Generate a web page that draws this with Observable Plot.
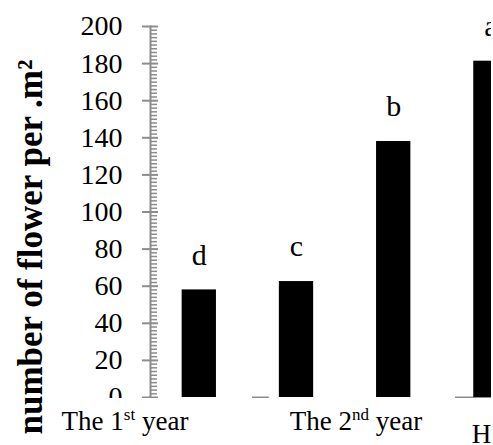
<!DOCTYPE html>
<html><head><meta charset="utf-8">
<script src="https://cdn.jsdelivr.net/npm/d3@7"></script>
<script src="https://cdn.jsdelivr.net/npm/@observablehq/plot@0.6"></script>
<style>
html,body{margin:0;padding:0;background:#fff;}
#wrap{position:relative;width:493px;height:445px;overflow:hidden;background:#fff;color:#000;}
#wrap svg{position:absolute;left:0;top:0;}
.glab{position:absolute;font-family:"Liberation Serif";font-size:27px;line-height:27px;white-space:nowrap;}
.glab sup{font-size:17px;line-height:0;vertical-align:10px;}
#ytitle{position:absolute;font-family:"Liberation Serif";font-size:35px;font-weight:bold;line-height:35px;white-space:nowrap;transform:translate(-50%,-50%) rotate(-90deg);}
</style></head><body><div id="wrap"></div>
<script>
// data
const barIndex = [0, 1, 2, 3];
const letters = ["d", "c", "b", "a"];
const flowers = [58, 62.5, 138, 181.3];
const yTicks = [0, 20, 40, 60, 80, 100, 120, 140, 160, 180, 200];
const yMinorTicks = d3.range(0, 201, 2).filter(v => v % 20 !== 0);
const yTitle = "number of flower per .m²";
const groupMain = ["The 1", "The 2", "H"];
const groupSup = ["st", "nd", ""];
const groupTail = [" year", " year", ""];
const groupAt = [-0.759, 1.617, 2.808];
const axisSegStart = [0.547, 2.636];
const axisSegEnd = [0.72, 3.01];

// style / layout
const groupAnchor = ["middle", "middle", "start"];
const groupTop = [408.4, 408.4, 421.4];
const halfBar = 0.1765;
const gray = "#8c8c8c";
const serif = "Liberation Serif";

const data = barIndex.map((i, k) => ({i, value: flowers[k], letter: letters[k]}));
const segs = axisSegStart.map((s, k) => ({x1: s, x2: axisSegEnd[k]}));

const plot = Plot.plot({
  width: 491,
  height: 398,
  marginLeft: 150,
  marginRight: 0,
  marginTop: 26,
  marginBottom: 1,
  x: {type: "linear", domain: [-0.502, 3.006], axis: null},
  y: {domain: [0, 200], axis: null},
  marks: [
    Plot.ruleY(segs, {x1: "x1", x2: "x2", y: 0, stroke: gray, strokeWidth: 2}),
    Plot.rectY(data, {x1: d => d.i - halfBar, x2: d => d.i + halfBar, y1: 0, y2: "value", fill: "black"}),
    Plot.text(data, {x: "i", y: "value", text: "letter", dy: -35, fontSize: 30, fontFamily: serif, fill: "black"}),
    Plot.frame({anchor: "left", stroke: gray, strokeWidth: 2}),
    Plot.axisY({ticks: yMinorTicks, tickSize: 7, dx: 7, fill: "none", stroke: gray, strokeWidth: 1.5, label: null}),
    Plot.axisY({ticks: yTicks, tickSize: 16, dx: 8, fill: "none", stroke: gray, strokeWidth: 2, label: null}),
    Plot.text(yTicks, {y: d => d, frameAnchor: "left", dx: -28, textAnchor: "end", text: d => String(d), fontSize: 28, fontFamily: serif, fill: "black"})
  ]
});

const wrap = document.getElementById("wrap");
wrap.appendChild(plot);
const xs = plot.scale("x");

groupMain.forEach((m, k) => {
  const el = document.createElement("div");
  el.className = "glab";
  el.appendChild(document.createTextNode(m));
  if (groupSup[k]) {
    const s = document.createElement("sup");
    s.textContent = groupSup[k];
    el.appendChild(s);
  }
  if (groupTail[k]) el.appendChild(document.createTextNode(groupTail[k]));
  el.style.left = xs.apply(groupAt[k]) + "px";
  el.style.top = groupTop[k] + "px";
  if (groupAnchor[k] === "middle") el.style.transform = "translateX(-50%)";
  wrap.appendChild(el);
});

const t = document.createElement("div");
t.id = "ytitle";
t.textContent = yTitle;
t.style.left = "30px";
t.style.top = "247px";
wrap.appendChild(t);
</script>
</body></html>
